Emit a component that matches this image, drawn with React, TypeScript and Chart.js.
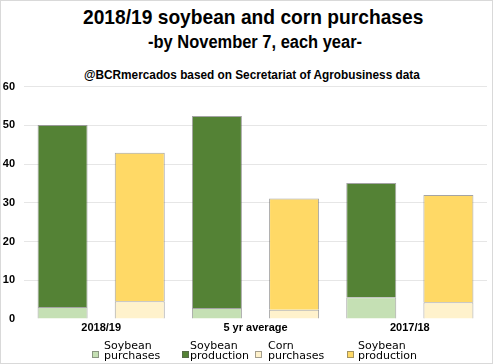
import React, { useEffect, useRef } from "react";
import { Chart, registerables } from "chart.js";

Chart.register(...registerables);

const categories = ["2018/19", "5 yr average", "2017/18"];
const soybeanPurchases = [3.1, 2.85, 5.6];
const soybeanProduction = [47.0, 49.55, 29.5];
const cornPurchases = [4.6, 2.4, 4.3];
const cornProduction = [38.3, 28.7, 27.7];
const legendLabels = [
  ["Soybean", "purchases"],
  ["Soybean", "production"],
  ["Corn", "purchases"],
  ["Soybean", "production"],
];
const seriesColors = ["#c5e0b4", "#548235", "#fff2cc", "#ffd966"];
const yMin = 0;
const yMax = 60;
const yStep = 10;

const titleLine1 = "2018/19 soybean and corn purchases";
const titleLine2 = "-by November 7, each year-";
const titleLine3 = "@BCRmercados based on Secretariat of Agrobusiness data";

const BORDER = "rgba(90,90,90,0.55)";

export default function App() {
  const canvasRef = useRef<HTMLCanvasElement | null>(null);

  useEffect(() => {
    document.body.style.margin = "0";
    const canvas = canvasRef.current;
    if (!canvas) return;
    const chart = new Chart(canvas, {
      type: "bar",
      data: {
        labels: categories,
        datasets: [
          { label: legendLabels[0].join(" "), data: soybeanPurchases, backgroundColor: seriesColors[0], borderColor: BORDER, borderWidth: 1, stack: "soy" },
          { label: legendLabels[1].join(" "), data: soybeanProduction, backgroundColor: seriesColors[1], borderColor: BORDER, borderWidth: 1, stack: "soy" },
          { label: legendLabels[2].join(" "), data: cornPurchases, backgroundColor: seriesColors[2], borderColor: BORDER, borderWidth: 1, stack: "corn" },
          { label: legendLabels[3].join(" "), data: cornProduction, backgroundColor: seriesColors[3], borderColor: BORDER, borderWidth: 1, stack: "corn" },
        ],
      },
      options: {
        animation: false,
        responsive: false,
        maintainAspectRatio: false,
        layout: { padding: { left: 0, right: 5, top: 0, bottom: 27 } },
        datasets: {
          bar: { categoryPercentage: 1.0, barPercentage: 0.648 },
        },
        scales: {
          x: {
            stacked: true,
            grid: { display: false, drawTicks: false },
            border: { display: false },
            ticks: {
              color: "#000",
              padding: 2,
              font: { family: "'Liberation Sans', Arial, sans-serif", size: 11, weight: "bold" },
            },
            afterFit: (scale: any) => {
              scale.height = 16;
            },
          },
          y: {
            stacked: true,
            min: yMin,
            max: yMax,
            ticks: {
              stepSize: yStep,
              color: "#000",
              padding: 9,
              font: { family: "'Liberation Sans', Arial, sans-serif", size: 11, weight: "bold" },
            },
            grid: {
              color: (ctx: any) => (ctx.tick && ctx.tick.value === 0 ? "rgba(0,0,0,0)" : "#e6e6e6"),
              drawTicks: false,
              lineWidth: 1,
            },
            border: { display: false },
            afterFit: (scale: any) => {
              scale.width = 23;
            },
          },
        },
        plugins: {
          title: { display: false },
          tooltip: { enabled: false },
          legend: { display: false },
        },
      },
    } as any);
    return () => chart.destroy();
  }, []);

  const titleRow = (text: string, top: number, size: number, dx: number, scale: number) => (
    <div
      style={{
        position: "absolute",
        left: dx,
        width: 491,
        top,
        textAlign: "center",
        whiteSpace: "nowrap",
        lineHeight: `${size}px`,
        height: size,
      }}
    >
      <span
        style={{
          display: "inline-block",
          fontFamily: "'Liberation Sans', Arial, sans-serif",
          fontWeight: "bold",
          fontSize: size,
          color: "#000",
          transform: `scaleX(${scale})`,
          transformOrigin: "center",
        }}
      >
        {text}
      </span>
    </div>
  );

  const legendBoxX = [91, 181, 254, 346];
  const legendTextX = [103, 189, 267, 357];

  return (
    <div
      style={{
        position: "relative",
        width: 491,
        height: 362,
        border: "1px solid #d9d9d9",
        background: "#fff",
        overflow: "hidden",
      }}
    >
      {titleRow(titleLine1, 5, 21, 6.5, 0.914)}
      {titleRow(titleLine2, 32, 18, 8.5, 0.914)}
      {titleRow(titleLine3, 66, 13, 5, 0.908)}
      <canvas
        ref={canvasRef}
        width={491}
        height={291}
        style={{ position: "absolute", left: 0, top: 70, width: 491, height: 291 }}
      />
      {legendLabels.map((lines, i) => (
        <React.Fragment key={i}>
          <div
            style={{
              position: "absolute",
              left: legendBoxX[i],
              top: 350,
              width: 7,
              height: 7,
              boxSizing: "border-box",
              background: seriesColors[i],
              border: `1px solid ${BORDER}`,
            }}
          />
          <div
            style={{
              position: "absolute",
              left: legendTextX[i],
              top: 340,
              fontFamily: "'DejaVu Sans', Verdana, sans-serif",
              fontSize: 11,
              lineHeight: "10px",
              color: "#000",
              whiteSpace: "nowrap",
            }}
          >
            {lines.map((l, j) => (
              <div key={j}>{l}</div>
            ))}
          </div>
        </React.Fragment>
      ))}
    </div>
  );
}
